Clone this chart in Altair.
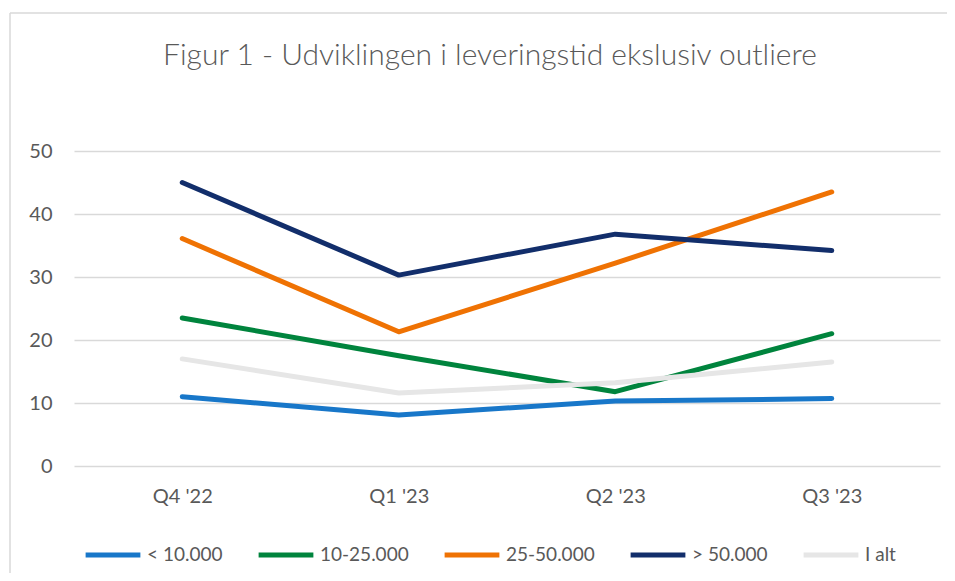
import altair as alt
import pandas as pd

title_text = "Figur 1 - Udviklingen i leveringstid ekslusiv outliere"
quarters = ["Q4 '22", "Q1 '23", "Q2 '23", "Q3 '23"]
series = ["< 10.000", "10-25.000", "25-50.000", "> 50.000", "I alt"]
v_lt10 = [11.0, 8.1, 10.3, 10.7]
v_10_25 = [23.5, 17.5, 11.8, 21.0]
v_25_50 = [36.1, 21.3, 32.2, 43.5]
v_gt50 = [45.0, 30.3, 36.8, 34.2]
v_ialt = [17.0, 11.6, 13.2, 16.5]
colors = ["#1877C9", "#00843D", "#EF7203", "#122E6B", "#E6E6E6"]

rows = []
for s, vals in zip(series, [v_lt10, v_10_25, v_25_50, v_gt50, v_ialt]):
    for q, v in zip(quarters, vals):
        rows.append({"Kvartal": q, "Serie": s, "Dage": v})
df = pd.DataFrame(rows)

lines = alt.Chart(df).mark_line(strokeWidth=5, strokeCap="round", strokeJoin="round").encode(
    x=alt.X("Kvartal:O", sort=quarters, scale=alt.Scale(padding=0.5),
            axis=alt.Axis(title=None, labelAngle=0, ticks=False, domain=False,
                          labelPadding=20, labelFontSize=20, labelColor="#595959",
                          labelFont="Lato")),
    y=alt.Y("Dage:Q", scale=alt.Scale(domain=[0, 50]),
            axis=alt.Axis(title=None, values=[0, 10, 20, 30, 40, 50], ticks=False, domain=False,
                          labelPadding=22, labelFontSize=20, labelColor="#595959",
                          labelFont="Lato", gridColor="#D9D9D9", gridWidth=1.3)),
    color=alt.Color("Serie:N", sort=series,
                    scale=alt.Scale(domain=series, range=colors),
                    legend=alt.Legend(title=None, orient="none", direction="horizontal",
                                      legendX=9, legendY=374, symbolType="stroke",
                                      symbolSize=3000, symbolStrokeWidth=5,
                                      labelFontSize=19, labelColor="#595959", labelFont="Lato",
                                      columnPadding=25, labelOffset=4)),
    order=alt.Order("Serie:N"),
    detail="Serie:N",
)

frame_df = pd.DataFrame({"t": [title_text]})
top_border = alt.Chart(frame_df).mark_rule(color="#D9D9D9", strokeWidth=1.5).encode(
    x=alt.value(-64), x2=alt.value(881), y=alt.value(-138))
left_border = alt.Chart(frame_df).mark_rule(color="#D9D9D9", strokeWidth=1.5).encode(
    x=alt.value(-64), y=alt.value(-138), y2=alt.value(430))
title_mark = alt.Chart(frame_df).mark_text(
    fontSize=30, font="Lato", fontWeight=300, color="#595959",
    align="center", baseline="alphabetic").encode(
    text="t:N", x=alt.value(416), y=alt.value(-86))

chart = alt.layer(top_border, left_border, title_mark, lines).properties(
    width=866, height=315,
    autosize=alt.AutoSizeParams(type="none"),
    padding={"left": 66, "top": 143, "right": 7, "bottom": 107},
).configure_view(stroke=None)

chart.save("out.html", embed_options={"renderer": "svg", "actions": False})
